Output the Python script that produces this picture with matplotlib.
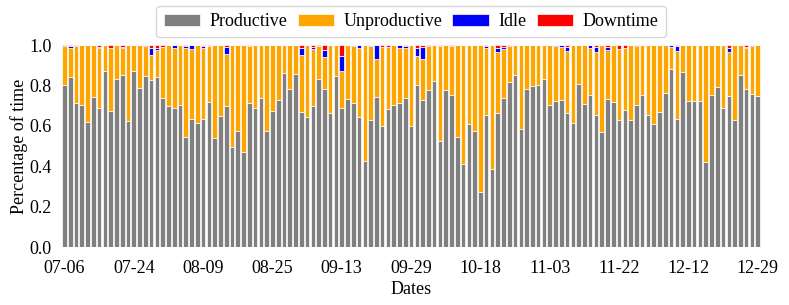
import matplotlib
matplotlib.use("Agg")
import matplotlib.pyplot as plt
import numpy as np

# fraction of time per day (121 working days)
productive = [
    0.805, 0.843, 0.714, 0.706, 0.620, 0.741, 0.691, 0.870, 0.672, 0.832,
    0.851, 0.625, 0.871, 0.789, 0.847, 0.825, 0.842, 0.736, 0.701, 0.690,
    0.703, 0.543, 0.634, 0.612, 0.634, 0.719, 0.538, 0.649, 0.698, 0.497,
    0.574, 0.469, 0.711, 0.690, 0.736, 0.576, 0.672, 0.729, 0.863, 0.785,
    0.858, 0.668, 0.642, 0.698, 0.832, 0.785, 0.665, 0.845, 0.688, 0.731,
    0.711, 0.645, 0.427, 0.630, 0.741, 0.601, 0.683, 0.706, 0.711, 0.739,
    0.601, 0.805, 0.726, 0.779, 0.823, 0.525, 0.779, 0.752, 0.543, 0.411,
    0.609, 0.576, 0.271, 0.653, 0.389, 0.665, 0.736, 0.815, 0.850, 0.586,
    0.782, 0.797, 0.804, 0.830, 0.705, 0.723, 0.726, 0.665, 0.616, 0.810,
    0.708, 0.752, 0.653, 0.568, 0.733, 0.719, 0.627, 0.681, 0.627, 0.705,
    0.752, 0.655, 0.611, 0.670, 0.761, 0.884, 0.634, 0.865, 0.724, 0.721,
    0.721, 0.421, 0.754, 0.792, 0.690, 0.748, 0.630, 0.850, 0.782, 0.756,
    0.748,
]
unproductive = [
    0.190, 0.142, 0.281, 0.294, 0.380, 0.259, 0.296, 0.130, 0.316, 0.168,
    0.135, 0.375, 0.129, 0.211, 0.148, 0.126, 0.134, 0.257, 0.299, 0.294,
    0.297, 0.445, 0.348, 0.388, 0.350, 0.277, 0.462, 0.351, 0.257, 0.503,
    0.426, 0.531, 0.283, 0.310, 0.264, 0.424, 0.328, 0.271, 0.137, 0.215,
    0.142, 0.284, 0.358, 0.282, 0.162, 0.154, 0.335, 0.155, 0.185, 0.269,
    0.285, 0.342, 0.573, 0.365, 0.189, 0.391, 0.309, 0.294, 0.273, 0.249,
    0.399, 0.139, 0.204, 0.215, 0.177, 0.470, 0.221, 0.244, 0.457, 0.589,
    0.391, 0.424, 0.729, 0.335, 0.611, 0.300, 0.246, 0.179, 0.150, 0.414,
    0.218, 0.203, 0.196, 0.170, 0.295, 0.272, 0.266, 0.304, 0.384, 0.190,
    0.292, 0.235, 0.312, 0.432, 0.242, 0.281, 0.353, 0.303, 0.373, 0.289,
    0.248, 0.345, 0.389, 0.330, 0.239, 0.108, 0.336, 0.135, 0.276, 0.279,
    0.279, 0.579, 0.246, 0.208, 0.310, 0.216, 0.370, 0.150, 0.205, 0.239,
    0.252,
]
idle = [
    0.000, 0.010, 0.000, 0.000, 0.000, 0.000, 0.005, 0.000, 0.000, 0.000,
    0.006, 0.000, 0.000, 0.000, 0.005, 0.036, 0.012, 0.000, 0.000, 0.016,
    0.000, 0.008, 0.018, 0.000, 0.012, 0.000, 0.000, 0.000, 0.035, 0.000,
    0.000, 0.000, 0.000, 0.000, 0.000, 0.000, 0.000, 0.000, 0.000, 0.000,
    0.000, 0.036, 0.000, 0.010, 0.000, 0.035, 0.000, 0.000, 0.074, 0.000,
    0.004, 0.013, 0.000, 0.005, 0.070, 0.000, 0.000, 0.000, 0.016, 0.006,
    0.000, 0.040, 0.060, 0.000, 0.000, 0.000, 0.000, 0.000, 0.000, 0.000,
    0.000, 0.000, 0.000, 0.007, 0.000, 0.023, 0.010, 0.000, 0.000, 0.000,
    0.000, 0.000, 0.000, 0.000, 0.000, 0.005, 0.008, 0.023, 0.000, 0.000,
    0.000, 0.013, 0.027, 0.000, 0.017, 0.000, 0.000, 0.000, 0.000, 0.000,
    0.000, 0.000, 0.000, 0.000, 0.000, 0.008, 0.025, 0.000, 0.000, 0.000,
    0.000, 0.000, 0.000, 0.000, 0.000, 0.020, 0.000, 0.000, 0.005, 0.005,
    0.000,
]
downtime = [
    0.005, 0.005, 0.005, 0.000, 0.000, 0.000, 0.008, 0.000, 0.012, 0.000,
    0.008, 0.000, 0.000, 0.000, 0.000, 0.013, 0.012, 0.007, 0.000, 0.000,
    0.000, 0.004, 0.000, 0.000, 0.004, 0.004, 0.000, 0.000, 0.010, 0.000,
    0.000, 0.000, 0.006, 0.000, 0.000, 0.000, 0.000, 0.000, 0.000, 0.000,
    0.000, 0.012, 0.000, 0.010, 0.006, 0.026, 0.000, 0.000, 0.053, 0.000,
    0.000, 0.000, 0.000, 0.000, 0.000, 0.008, 0.008, 0.000, 0.000, 0.006,
    0.000, 0.016, 0.010, 0.006, 0.000, 0.005, 0.000, 0.004, 0.000, 0.000,
    0.000, 0.000, 0.000, 0.005, 0.000, 0.012, 0.008, 0.006, 0.000, 0.000,
    0.000, 0.000, 0.000, 0.000, 0.000, 0.000, 0.000, 0.008, 0.000, 0.000,
    0.000, 0.000, 0.008, 0.000, 0.008, 0.000, 0.020, 0.016, 0.000, 0.006,
    0.000, 0.000, 0.000, 0.000, 0.000, 0.000, 0.005, 0.000, 0.000, 0.000,
    0.000, 0.000, 0.000, 0.000, 0.000, 0.016, 0.000, 0.000, 0.008, 0.000,
    0.000,
]
tick_labels = ["07-06", "07-24", "08-09", "08-25", "09-13", "09-29",
               "10-18", "11-03", "11-22", "12-12", "12-29"]

plt.rcParams["font.family"] = ["Liberation Serif", "DejaVu Serif"]

fig = plt.figure(figsize=(7.89, 3.05), dpi=100)
ax = fig.add_axes([0.078, 0.19, 0.886, 0.662])

x = np.arange(len(productive))
series = [("Productive", productive, "grey"),
          ("Unproductive", unproductive, "orange"),
          ("Idle", idle, "blue"),
          ("Downtime", downtime, "red")]
bottom = np.zeros(len(x))
for nombre, valores, color in series:
    valores = np.array(valores)
    ax.bar(x, valores, 0.8, bottom=bottom, color=color, edgecolor="white",
           linewidth=0.5, label=nombre)
    bottom = bottom + valores

ax.set_xlim(-0.5, len(x) - 0.5)
ax.set_ylim(0, 1.0)
ax.set_xticks(np.arange(0, len(x), 12))
ax.set_xticklabels(tick_labels)
ax.set_yticks(np.arange(0, 1.01, 0.2))
ax.tick_params(axis="both", length=0, labelsize=13, pad=7)
ax.tick_params(axis="x", pad=9)
for s in ax.spines.values():
    s.set_visible(False)

ax.set_xlabel("Dates", fontsize=13, labelpad=3)
ax.set_ylabel("Percentage of time", fontsize=13, labelpad=1)
ax.legend(loc="center", bbox_to_anchor=(0.5, 1.116), ncol=4, fontsize=13,
          handlelength=2, handletextpad=0.55, columnspacing=0.55,
          borderpad=0.4)

plt.savefig("out.png", dpi=100)
